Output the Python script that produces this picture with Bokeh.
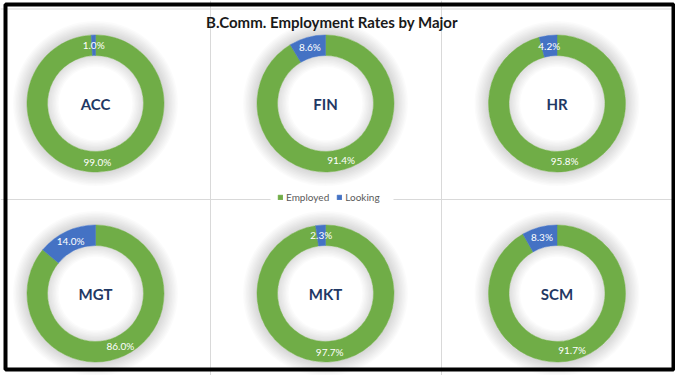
import math
from bokeh.plotting import figure
from bokeh.models import ColumnDataSource, Range1d, Legend, LegendItem
from bokeh.core.properties import value
from bokeh.embed import file_html
from bokeh.resources import INLINE

# ---- data ----
majors = ["ACC", "FIN", "HR", "MGT", "MKT", "SCM"]
employed = [99.0, 91.4, 95.8, 86.0, 97.7, 91.7]
looking = [1.0, 8.6, 4.2, 14.0, 2.3, 8.3]
series_names = ["Employed", "Looking"]
title_text = "B.Comm. Employment Rates by Major"

# ---- layout (page pixels; y measured upward in data space) ----
W, H = 675, 375
col_x = [95, 325, 556.5]
row_y_page = [103, 293]
R_OUT, R_IN = 68.5, 48
R_LAB = 58.5
GREEN, BLUE, NAVY = "#70AD47", "#4472C4", "#1F3864"
FONT = value("Lato")

p = figure(width=W, height=H, x_range=Range1d(0, W), y_range=Range1d(0, H),
           output_backend="svg", toolbar_location=None, min_border=0,
           x_axis_location=None, y_axis_location=None)
p.grid.visible = False
p.outline_line_color = None
p.background_fill_color = "white"
p.border_fill_color = "white"

cx = [col_x[i % 3] for i in range(len(majors))]
cy = [H - row_y_page[i // 3] for i in range(len(majors))]

# panel separators (gap left for the legend)
p.segment(x0=[210, 441, 0, 393], y0=[0, 0, H - 199, H - 199],
          x1=[210, 441, 270, W], y1=[H, H, H - 199, H - 199],
          line_color="#D9D9D9", line_width=1)
p.segment(x0=[0, 0], y0=[H - 8.5, 0], x1=[W, W], y1=[H - 8.5, 0],
          line_color="#D9D9D9", line_width=1)

# soft shadows
for k in range(1, 11):
    p.annulus(x=cx, y=cy, inner_radius=R_OUT, outer_radius=R_OUT + k * 1.4,
              fill_color="black", fill_alpha=0.016, line_color=None)
for k in range(1, 9):
    p.annulus(x=cx, y=cy, inner_radius=R_IN - k * 1.4, outer_radius=R_IN,
              fill_color="black", fill_alpha=0.014, line_color=None)

look_start = [math.pi / 2 for _ in looking]
look_end = [math.pi / 2 + 2 * math.pi * l / 100 for l in looking]
emp_start = look_end
emp_end = [math.pi / 2 + 2 * math.pi for _ in employed]

src_emp = ColumnDataSource(dict(x=cx, y=cy, s=emp_start, e=emp_end))
src_look = ColumnDataSource(dict(x=cx, y=cy, s=look_start, e=look_end))

r_emp = p.annular_wedge(x="x", y="y", inner_radius=R_IN, outer_radius=R_OUT,
                        start_angle="s", end_angle="e", fill_color=GREEN,
                        line_color=GREEN, line_width=0.5, source=src_emp)
r_look = p.annular_wedge(x="x", y="y", inner_radius=R_IN, outer_radius=R_OUT,
                         start_angle="s", end_angle="e", fill_color=BLUE,
                         line_color=BLUE, line_width=0.5, source=src_look)

# data labels
lx, ly, lt = [], [], []
for i in range(len(majors)):
    a_l = math.pi / 2 + math.pi * looking[i] / 100
    a_e = math.pi / 2 + 2 * math.pi * looking[i] / 100 + math.pi * employed[i] / 100
    lx += [cx[i] + R_LAB * math.cos(a_e), cx[i] + R_LAB * math.cos(a_l)]
    ly += [cy[i] + R_LAB * math.sin(a_e), cy[i] + R_LAB * math.sin(a_l)]
    lt += [f"{employed[i]:.1f}%", f"{looking[i]:.1f}%"]
p.text(x=lx, y=ly, text=lt, text_color="white", text_font=FONT,
       text_font_size="10px", text_align="center", text_baseline="middle")

# centre labels
p.text(x=cx, y=cy, text=majors, text_color=NAVY, text_font=FONT, text_font_style="bold",
       text_font_size="15px", text_align="center", text_baseline="middle")

# title
p.text(x=[331.5], y=[H - 21], text=[title_text], text_color="#1A1A1A", text_font=FONT,
       text_font_style="bold", text_font_size="15px", text_align="center", text_baseline="middle")

# outer border
p.quad(left=[5], right=[673], bottom=[6], top=[371], fill_color=None,
       line_color="black", line_width=4)

legend = Legend(items=[LegendItem(label=series_names[0], renderers=[r_emp]),
                       LegendItem(label=series_names[1], renderers=[r_look])],
                orientation="horizontal", location=(277, 172),
                glyph_width=6, glyph_height=6, label_standoff=3, spacing=7,
                padding=8, margin=0, label_text_font="Lato", label_text_font_size="10px",
                label_text_color="#595959", border_line_color=None,
                background_fill_color="white", background_fill_alpha=1.0,
                label_height=10)
p.add_layout(legend, "center")

open("out.html", "w").write(file_html(p, INLINE))
